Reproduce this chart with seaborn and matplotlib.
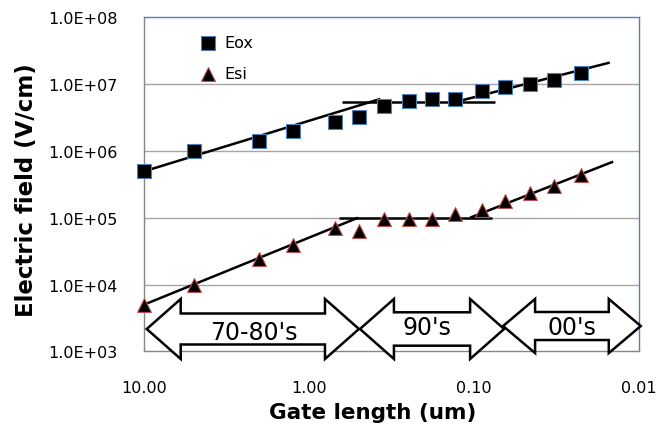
import numpy as np
import pandas as pd
import matplotlib
matplotlib.use("Agg")
import matplotlib.pyplot as plt
import seaborn as sns
from matplotlib.patches import Polygon
from matplotlib.ticker import FixedLocator, LogLocator, NullFormatter

# ---- data ----
gate_length = [10.0, 5.0, 2.0, 1.25, 0.7, 0.5, 0.35, 0.25, 0.18, 0.13, 0.09, 0.065, 0.046, 0.033, 0.0226]
eox = [5.0e5, 1.0e6, 1.4e6, 2.0e6, 2.7e6, 3.2e6, 4.7e6, 5.5e6, 5.9e6, 5.9e6, 8.0e6, 9.1e6, 1.0e7, 1.15e7, 1.45e7]
esi = [5.0e3, 1.0e4, 2.4e4, 3.9e4, 6.9e4, 6.4e4, 9.4e4, 9.6e4, 9.6e4, 1.12e5, 1.3e5, 1.77e5, 2.35e5, 3.0e5, 4.4e5]

# trend line segments (x endpoints, y endpoints)
eox_trend1_x = [10.4, 0.37]
eox_trend1_y = [4.8e5, 6.0e6]
eox_flat_x = [0.635, 0.0746]
eox_flat_y = [5.4e6, 5.4e6]
eox_trend3_x = [0.13, 0.0151]
eox_trend3_y = [5.4e6, 2.1e7]
esi_trend1_x = [10.4, 0.505]
esi_trend1_y = [4.8e3, 1.0e5]
esi_flat_x = [0.66, 0.078]
esi_flat_y = [1.0e5, 1.0e5]
esi_trend3_x = [0.106, 0.0144]
esi_trend3_y = [1.0e5, 6.9e5]

era_labels = ["70-80's", "90's", "00's"]
x_ticks = [10.0, 1.0, 0.1, 0.01]
x_tick_labels = ["10.00", "1.00", "0.10", "0.01"]
y_ticks = [1e3, 1e4, 1e5, 1e6, 1e7, 1e8]
y_tick_labels = ["1.0E+03", "1.0E+04", "1.0E+05", "1.0E+06", "1.0E+07", "1.0E+08"]

sns.set_theme(style="white")
plt.rcParams['font.family'] = ['DejaVu Sans']

fig = plt.figure(figsize=(6.58, 4.39), dpi=100)
ax = fig.add_axes([144/658, (439-352.3)/439, (639.3-144)/658, (352.3-18.3)/439])

df = pd.DataFrame({"x": gate_length * 2,
                   "y": eox + esi,
                   "series": ["Eox"] * len(eox) + ["Esi"] * len(esi)})

ax.set_xscale("log")
ax.set_yscale("log")

# gridlines
for yv in y_ticks[1:-1]:
    ax.axhline(yv, color="#a6a6a6", lw=1.0, zorder=0)

# trend lines
for xs, ys in [(eox_trend1_x, eox_trend1_y), (eox_flat_x, eox_flat_y), (eox_trend3_x, eox_trend3_y),
               (esi_trend1_x, esi_trend1_y), (esi_flat_x, esi_flat_y), (esi_trend3_x, esi_trend3_y)]:
    ax.plot(xs, ys, color="black", lw=1.8, zorder=2, solid_capstyle="butt")

sns.scatterplot(data=df[df.series == "Eox"], x="x", y="y", marker="s", s=100,
                color="black", edgecolor="#4f81bd", linewidth=0.8, ax=ax, zorder=3,
                label="Eox", clip_on=False)
sns.scatterplot(data=df[df.series == "Esi"], x="x", y="y", marker="^", s=100,
                color="black", edgecolor="#c0504d", linewidth=0.8, ax=ax, zorder=3,
                label="Esi", clip_on=False)

ax.set_xlim(10, 0.01)
ax.set_ylim(1e3, 1e8)

ax.xaxis.set_major_locator(FixedLocator(x_ticks))
ax.set_xticklabels(x_tick_labels)
ax.yaxis.set_major_locator(FixedLocator(y_ticks))
ax.set_yticklabels(y_tick_labels)
ax.xaxis.set_minor_locator(LogLocator(base=10, subs=np.arange(2, 10)))
ax.yaxis.set_minor_locator(LogLocator(base=10, subs=np.arange(2, 10)))
ax.xaxis.set_minor_formatter(NullFormatter())
ax.yaxis.set_minor_formatter(NullFormatter())
ax.tick_params(axis="both", which="major", length=0, labelsize=11.5, colors="black")
ax.tick_params(axis="y", which="major", pad=19)
ax.tick_params(axis="x", which="major", pad=21)
ax.tick_params(axis="both", which="minor", direction="in", length=4, width=0.8, color="#a0a0a0")

for s in ["left", "bottom"]:
    ax.spines[s].set_color("#868686")
    ax.spines[s].set_linewidth(1.0)
for s in ["top", "right"]:
    ax.spines[s].set_color("#4f81bd")
    ax.spines[s].set_linewidth(1.0)

ax.set_xlabel("Gate length (um)", fontsize=15.5, fontweight="bold", color="black")
ax.set_ylabel("Electric field (V/cm)", fontsize=16.5, fontweight="bold", color="black")
ax.xaxis.set_label_coords(0.462, -0.152)
ax.yaxis.set_label_coords(-0.214, 0.486)

leg = ax.legend(loc="upper left", bbox_to_anchor=(0.085, 0.965), frameon=False,
                fontsize=11.5, handletextpad=0.0, labelspacing=1.0, markerscale=1.0,
                borderaxespad=0.0)
for t in leg.get_texts():
    t.set_color("black")

# double-headed block arrows (axes fraction coordinates)
def block_arrow(x0, x1, yc, head_len, head_half, body_half):
    pts = [(x0, yc), (x0 + head_len, yc + head_half), (x0 + head_len, yc + body_half),
           (x1 - head_len, yc + body_half), (x1 - head_len, yc + head_half), (x1, yc),
           (x1 - head_len, yc - head_half), (x1 - head_len, yc - body_half),
           (x0 + head_len, yc - body_half), (x0 + head_len, yc - head_half)]
    return Polygon(pts, closed=True, transform=ax.transAxes, facecolor="white",
                   edgecolor="black", lw=1.8, zorder=4, clip_on=False, joinstyle="miter")

arrows = [(0.0055, 0.434, 0.0668, 0.0686, 0.0898, 0.0464),
          (0.436, 0.727, 0.0668, 0.0686, 0.0898, 0.05),
          (0.725, 1.003, 0.0757, 0.0646, 0.081, 0.042)]
for a in arrows:
    ax.add_patch(block_arrow(*a))

label_pos = [(0.222, 0.058), (0.571, 0.073), (0.864, 0.073)]
for lab, (lx, ly) in zip(era_labels, label_pos):
    ax.text(lx, ly, lab, transform=ax.transAxes, ha="center", va="center",
            fontsize=17, color="black", zorder=5)

fig.savefig("out.png", dpi=100)
